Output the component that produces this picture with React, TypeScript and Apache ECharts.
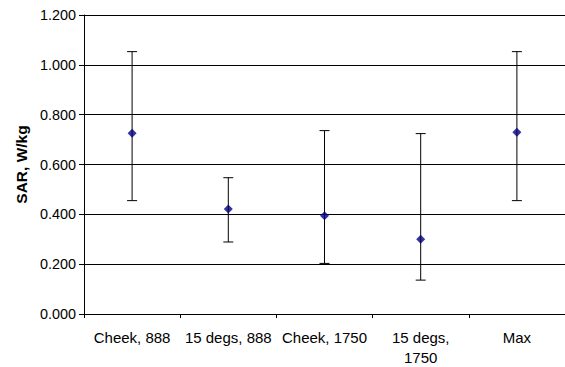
import React, { useEffect, useRef } from "react";
import * as echarts from "echarts";

const categories = ["Cheek, 888", "15 degs, 888", "Cheek, 1750", "15 degs, 1750", "Max"];
const sarValues = [0.725, 0.421, 0.394, 0.3, 0.729];
const upperValues = [1.053, 0.547, 0.736, 0.724, 1.053];
const lowerValues = [0.455, 0.289, 0.203, 0.136, 0.455];
const yTicks = { min: 0, max: 1.2, interval: 0.2 };

export default function App() {
  const ref = useRef<HTMLDivElement>(null);
  useEffect(() => {
    if (!ref.current) return;
    const chart = echarts.init(ref.current, null, { renderer: "svg" });
    const errorData = categories.map((_, i) => [i, lowerValues[i], upperValues[i]]);
    chart.setOption({
      animation: false,
      backgroundColor: "#ffffff",
      grid: { left: 84, top: 15, bottom: 53, width: 486 },
      xAxis: {
        type: "category",
        data: categories,
        boundaryGap: true,
        axisLine: { lineStyle: { color: "#000", width: 1 } },
        axisTick: { show: true, length: 4, alignWithLabel: false, lineStyle: { color: "#000" } },
        axisLabel: {
          color: "#000",
          fontFamily: "Liberation Sans, Arial, sans-serif",
          fontSize: 15,
          lineHeight: 20,
          margin: 13,
          interval: 0,
          formatter: (v: string) => (v.length > 12 ? v.replace(/, (\S+)$/, ",\n$1") : v),
        },
        splitLine: { show: false },
      },
      yAxis: {
        type: "value",
        min: yTicks.min,
        max: yTicks.max,
        interval: yTicks.interval,
        name: "SAR, W/kg",
        nameLocation: "middle",
        nameRotate: 90,
        nameGap: 50,
        nameTextStyle: {
          color: "#000",
          fontFamily: "Liberation Sans, Arial, sans-serif",
          fontSize: 15.5,
          fontWeight: "bold",
        },
        axisLine: { show: true, lineStyle: { color: "#000", width: 1 } },
        axisTick: { show: true, inside: false, length: 5, lineStyle: { color: "#000" } },
        axisLabel: {
          color: "#000",
          fontFamily: "Liberation Sans, Arial, sans-serif",
          fontSize: 14.4,
          margin: 8,
          formatter: (v: number) => v.toFixed(3),
        },
        splitLine: { show: true, lineStyle: { color: "#000", width: 1 } },
      },
      series: [
        {
          type: "custom",
          data: errorData,
          encode: { x: 0, y: [1, 2] },
          z: 2,
          renderItem: (params: any, api: any) => {
            const x = api.value(0);
            const lo = api.coord([x, api.value(1)]);
            const hi = api.coord([x, api.value(2)]);
            const half = 5;
            const style = { stroke: "#000", lineWidth: 1 };
            return {
              type: "group",
              children: [
                { type: "line", shape: { x1: lo[0], y1: lo[1], x2: hi[0], y2: hi[1] }, style },
                { type: "line", shape: { x1: hi[0] - half, y1: hi[1], x2: hi[0] + half, y2: hi[1] }, style },
                { type: "line", shape: { x1: lo[0] - half, y1: lo[1], x2: lo[0] + half, y2: lo[1] }, style },
              ],
            };
          },
        },
        {
          type: "scatter",
          data: sarValues,
          symbol: "diamond",
          symbolSize: 9,
          z: 3,
          itemStyle: { color: "#000080" },
        },
      ],
    });
    return () => chart.dispose();
  }, []);
  return (
    <div
      ref={ref}
      style={{ position: "fixed", left: 0, top: 0, width: 565, height: 367, overflow: "hidden" }}
    />
  );
}
